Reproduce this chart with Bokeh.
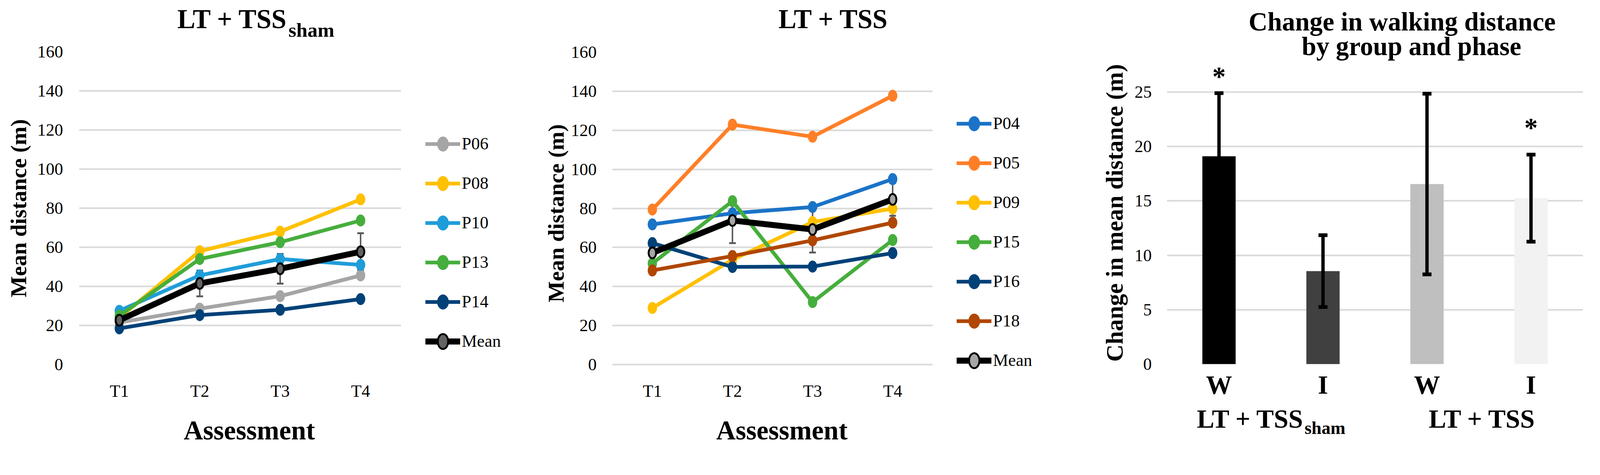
from bokeh.plotting import figure
from bokeh.layouts import row, column
from bokeh.models import (Range1d, FixedTicker, Legend, LegendItem, Label,
                          Whisker, TeeHead, ColumnDataSource)
from bokeh.embed import file_html
from bokeh.resources import INLINE

FONT = "Liberation Serif"
S = 0.956            # layout scale so that the page fits the visible viewport


def px(v):
    return int(round(v * S))


def fs(v):
    return f"{v * S:.1f}px"


H = px(1199)

# ---------------- data ----------------
assessments = ["T1", "T2", "T3", "T4"]

sham_names = ["P06", "P08", "P10", "P13", "P14"]
sham_P06 = [21.5, 28.6, 35.0, 45.6]
sham_P08 = [24.0, 58.0, 68.0, 84.5]
sham_P10 = [27.5, 45.6, 54.0, 51.0]
sham_P13 = [25.0, 54.0, 62.6, 73.7]
sham_P14 = [18.5, 25.3, 28.0, 33.5]
sham_mean = [22.7, 41.5, 49.0, 57.7]
sham_sd = [1.8, 6.6, 7.6, 9.5]
sham_colors = ["#a5a5a5", "#ffc000", "#1f9dd9", "#46ae3c", "#004178"]

tss_names = ["P04", "P05", "P09", "P15", "P16", "P18"]
tss_P04 = [71.8, 77.5, 80.7, 95.0]
tss_P05 = [79.4, 122.9, 116.7, 137.7]
tss_P09 = [29.0, 53.7, 73.0, 79.9]
tss_P15 = [51.8, 83.7, 32.0, 63.8]
tss_P16 = [62.2, 50.0, 50.2, 57.1]
tss_P18 = [48.2, 55.6, 63.6, 72.7]
tss_mean = [57.2, 73.8, 69.2, 84.6]
tss_sd = [5.0, 11.6, 11.8, 8.4]
tss_colors = ["#1a73c7", "#ff7f27", "#ffc000", "#46ae3c", "#004178", "#b04600"]

y_ticks_line = [0, 20, 40, 60, 80, 100, 120, 140, 160]

bar_labels = ["W", "I", "W", "I"]
bar_values = [19.1, 8.55, 16.55, 15.25]
bar_err = [5.8, 3.3, 8.3, 4.0]
bar_colors = ["#000000", "#404040", "#bfbfbf", "#f2f2f2"]
bar_sig = ["*", "", "", "*"]
group_main = ["LT + TSS", "LT + TSS"]
group_sub = ["sham", ""]
y_ticks_bar = [0, 5, 10, 15, 20, 25]


def text_fig(width, height, x_range=None, left=0, right=0):
    f = figure(width=width, height=height,
               x_range=x_range if x_range is not None else Range1d(0, 1),
               y_range=Range1d(0, 1), output_backend="svg", toolbar_location=None,
               x_axis_location=None, y_axis_location=None,
               min_border_left=left, min_border_right=right,
               min_border_top=0, min_border_bottom=0, frame_align=False)
    f.grid.visible = False
    f.outline_line_color = None
    return f


def base_fig(width, height, left, right, top, bottom, x_range, y_range):
    p = figure(width=width, height=height, x_range=x_range, y_range=y_range,
               output_backend="svg", toolbar_location=None,
               min_border_left=left, min_border_right=right,
               min_border_top=top, min_border_bottom=bottom, frame_align=False)
    p.outline_line_color = None
    p.xgrid.visible = False
    p.ygrid.grid_line_color = "#d9d9d9"
    p.ygrid.grid_line_width = 4 * S
    for ax in (p.xaxis[0], p.yaxis[0]):
        ax.axis_line_color = None
        ax.major_tick_line_color = None
        ax.minor_tick_line_color = None
        ax.major_tick_out = 0
        ax.major_label_text_font = FONT
        ax.major_label_text_color = "black"
        ax.axis_label_text_font = FONT
        ax.axis_label_text_font_style = "bold"
        ax.axis_label_text_color = "black"
    return p


def add_label(p, text, x, y, size, align="center", baseline="middle",
              x_units="screen", y_units="screen", x_offset=0, y_offset=0, bold=True):
    p.add_layout(Label(x=x, y=y, x_units=x_units, y_units=y_units, text=text,
                       x_offset=x_offset, y_offset=y_offset,
                       text_font=FONT, text_font_style="bold" if bold else "normal",
                       text_font_size=fs(size), text_align=align,
                       text_baseline=baseline, text_color="black"))


TITLE_H = px(112)


def line_panel(width_r, left_r, plot_w_r, plot_top_r, plot_bottom_r, y_start, bottom_r,
               names, series, colors, mean, sd, mean_fill, legend_loc_r,
               ylab_standoff_r, tick_standoff_r):
    """All *_r values are reference pixel distances, scaled here by S."""
    xs = list(range(1, len(assessments) + 1))
    width, left, bottom = px(width_r), px(left_r), px(bottom_r)
    top = px(plot_top_r) - TITLE_H
    ppu_r = (plot_bottom_r - plot_top_r) / 160.0
    frame_h = px((plot_bottom_r - plot_top_r) + (0 - y_start) * ppu_r)
    height = top + frame_h + bottom
    frame_w = width - left
    x_end = 0.5 + len(assessments) * frame_w / (plot_w_r * S)
    xr = Range1d(0.5, x_end)
    p = base_fig(width, height, left, 0, top, bottom, xr, Range1d(y_start, 160))
    p.ygrid.cross_bounds = (0.5, 0.5 + len(assessments))
    p.xaxis.ticker = FixedTicker(ticks=xs)
    p.xaxis.major_label_overrides = {x: t for x, t in zip(xs, assessments)}
    p.yaxis.ticker = FixedTicker(ticks=y_ticks_line)
    p.yaxis.major_label_text_font_size = fs(46)
    p.xaxis.major_label_text_font_size = fs(46)
    p.yaxis.major_label_standoff = px(tick_standoff_r)
    p.xaxis.major_label_standoff = px(45 - (0 - y_start) * ppu_r)
    p.yaxis.axis_label = "Mean distance (m)"
    p.yaxis.axis_label_text_font_size = fs(60)
    p.yaxis.axis_label_standoff = px(ylab_standoff_r)

    src = ColumnDataSource(dict(x=xs, upper=[m + s for m, s in zip(mean, sd)],
                                lower=[m - s for m, s in zip(mean, sd)]))
    p.add_layout(Whisker(source=src, base="x", upper="upper", lower="lower",
                         line_color="#595959", line_width=4 * S,
                         upper_head=TeeHead(size=px(18), line_color="#595959", line_width=5 * S),
                         lower_head=TeeHead(size=px(18), line_color="#595959", line_width=5 * S)))
    items = []
    for name, ys, c in zip(names, series, colors):
        ln = p.line(xs, ys, line_color=c, line_width=10 * S, line_join="round", line_cap="round")
        el = p.ellipse(xs, ys, width=25 * S, height=32 * S, width_units="screen",
                       height_units="screen", fill_color=c, line_color=None)
        items.append(LegendItem(label=name, renderers=[ln, el]))
    ln = p.line(xs, mean, line_color="black", line_width=16 * S, line_join="round", line_cap="round")
    el = p.ellipse(xs, mean, width=20 * S, height=29 * S, width_units="screen",
                   height_units="screen", fill_color=mean_fill, line_color="black",
                   line_width=5 * S)
    items.append(LegendItem(label="Mean", renderers=[ln, el]))
    lg = Legend(items=items, location=(px(legend_loc_r[0]), px(legend_loc_r[1])),
                border_line_color=None, background_fill_alpha=0, padding=0, margin=0,
                spacing=px(52), glyph_width=px(93), glyph_height=px(50),
                label_height=px(50), label_standoff=px(4),
                label_text_font=FONT, label_text_font_size=fs(46),
                label_text_color="black")
    p.add_layout(lg)

    below_h = H - TITLE_H - height
    a = text_fig(width, below_h, x_range=xr, left=left, right=0)
    # "Assessment" centre sits at reference row 1151 of the column
    add_label(a, "Assessment", (1 + len(assessments)) / 2,
              below_h - (px(1151) - TITLE_H - height), 72, x_units="data", x_offset=px(25))
    return p, a


# ---------- panel 1 ----------
W1 = px(1442)
t1 = text_fig(W1, TITLE_H)
add_label(t1, "LT + TSS", px(769), TITLE_H - px(50), 72, align="right")
add_label(t1, "sham", px(772), TITLE_H - px(80), 54, align="left")
p1, a1 = line_panel(1442, 211, 861.5, 138, 975, 0, 110,
                    sham_names, [sham_P06, sham_P08, sham_P10, sham_P13, sham_P14],
                    sham_colors, sham_mean, sham_sd, "#636363", (928, 36), 15, 43)

# ---------- panel 2 ----------
W2 = px(1430)
t2 = text_fig(W2, TITLE_H)
add_label(t2, "LT + TSS", px(789), TITLE_H - px(50), 72)
p2, a2 = line_panel(1430, 197, 858, 139, 975, -5, 104,
                    tss_names, [tss_P04, tss_P05, tss_P09, tss_P15, tss_P16, tss_P18],
                    tss_colors, tss_mean, tss_sd, "#a6a6a6", (923, 10), 4, 42)

# ---------- panel 3 ----------
W3 = px(1395)
T3_H = px(164)
B3_H = px(124)
P3_H = H - T3_H - B3_H
L3, R3 = px(252), px(29)
BOT3 = px(100)
frame_h3 = P3_H - BOT3
plot_top_px = px(246) - T3_H        # row of the 25 gridline inside p3's frame
y_top = 25 * frame_h3 / (frame_h3 - plot_top_px)
ppu3 = (frame_h3 - plot_top_px) / 25.0

bx = [i + 0.5 for i in range(len(bar_values))]
xr3 = Range1d(0, len(bar_values))
p3 = base_fig(W3, P3_H, L3, R3, 0, BOT3, xr3, Range1d(0, y_top))
p3.vbar(x=bx, top=bar_values, width=0.32, fill_color=bar_colors, line_color=None)
upper = [v + e for v, e in zip(bar_values, bar_err)]
lower = [v - e for v, e in zip(bar_values, bar_err)]
src3 = ColumnDataSource(dict(x=bx, upper=upper, lower=lower))
p3.add_layout(Whisker(source=src3, base="x", upper="upper", lower="lower",
                      line_color="black", line_width=9 * S, level="overlay",
                      upper_head=TeeHead(size=px(24), line_color="black", line_width=10 * S),
                      lower_head=TeeHead(size=px(24), line_color="black", line_width=10 * S)))
p3.xaxis.ticker = FixedTicker(ticks=bx)
p3.xaxis.major_label_overrides = {x: t for x, t in zip(bx, bar_labels)}
p3.xaxis.major_label_text_font_size = fs(70)
p3.xaxis.major_label_text_font_style = "bold"
p3.xaxis.major_label_standoff = px(16)
p3.yaxis.ticker = FixedTicker(ticks=y_ticks_bar)
p3.yaxis.major_label_text_font_size = fs(46)
p3.yaxis.major_label_standoff = px(41)
p3.yaxis.axis_label = "Change in mean distance (m)"
p3.yaxis.axis_label_text_font_size = fs(64)
p3.yaxis.axis_label_standoff = px(16)

# significance stars: top of the text box sits this far (reference px) above the whisker end
star_gap = {0: 96, 3: 111}
for i, s in enumerate(bar_sig):
    if s:
        y_box_top = min(upper[i] + star_gap.get(i, 100) * S / ppu3, y_top)
        add_label(p3, s, bx[i], y_box_top, 72, x_units="data", y_units="data",
                  baseline="top")

t3 = text_fig(W3, T3_H)
add_label(t3, "Change in walking distance", px(882), T3_H - px(56), 70)
add_label(t3, "by group and phase", px(907), T3_H - px(122), 70)

b3 = text_fig(W3, B3_H, x_range=xr3, left=L3, right=R3)
for g, (main, sub) in enumerate(zip(group_main, group_sub)):
    gx = (bx[2 * g] + bx[2 * g + 1]) / 2
    if sub:
        add_label(b3, main, gx, px(80), 70, align="right", x_units="data", x_offset=px(88))
        add_label(b3, sub, gx, px(54), 48, align="left", x_units="data", x_offset=px(90))
    else:
        add_label(b3, main, gx, px(80), 70, x_units="data", x_offset=px(8))

layout = row(column(t1, p1, a1), column(t2, p2, a2), column(t3, p3, b3))
open("out.html", "w").write(file_html(layout, INLINE))
